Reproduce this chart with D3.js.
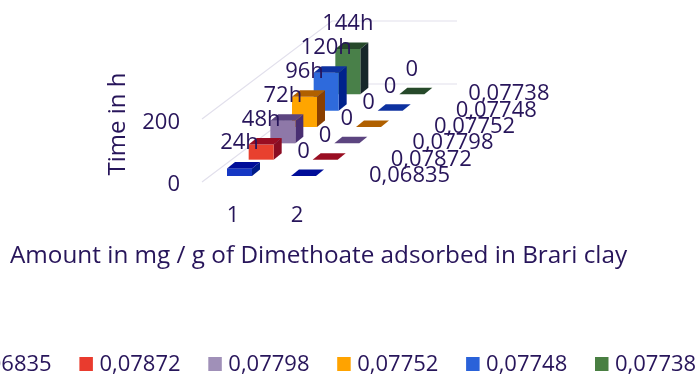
<!DOCTYPE html>
<html>
<head>
<script src="https://d3js.org/d3.v7.min.js"></script>
<style>
  html, body { margin: 0; padding: 0; background: #fff; }
  svg { display: block; }
  text { font-family: "Open Sans", sans-serif; fill: #28145a; }
  .big { font-size: 22px; }
</style>
</head>
<body>
<script>
var categories = ["1", "2"];
var seriesNames = ["0,06835", "0,07872", "0,07798", "0,07752", "0,07748", "0,07738"];
var timeLabels = ["24h", "48h", "72h", "96h", "120h", "144h"];
var cat1Values = [24, 48, 72, 96, 120, 144];
var cat2Values = [0, 0, 0, 0, 0, 0];
var yTicks = [0, 200];

var frontColors = ["#1538c4", "#e8402e", "#8e78a8", "#ffa500", "#2f6bdc", "#4a8048"];
var topColors = ["#000e99", "#990a20", "#5c4480", "#b06000", "#0f33a0", "#254a2a"];
var sideColors = ["#001a88", "#8a0a20", "#4a2f72", "#8a4000", "#04208c", "#16262a"];
var legendColors = ["#1538c4", "#e93a2e", "#a090b8", "#ffa300", "#2b62d9", "#4a7f42"];

var width = 698, height = 374;
var barW = 25, offX = 8, offY = 6.5;

var svg = d3.select("body").append("svg").attr("width", width).attr("height", height);

var catX = d3.scalePoint().domain(categories).range([227, 291]);
var depthX = d3.scaleLinear().domain([0, 6]).range([0, 130]);
var depthY = d3.scaleLinear().domain([0, 6]).range([0, -98]);
var barH = d3.scaleLinear().domain([0, 200]).range([0, 63]);
var yAxisScale = d3.scaleLinear().domain([0, 200]).range([182.5, 120.5]);
var legendX = d3.scaleLinear().domain([0, 5]).range([-49.5, 595]);

var line = d3.line();
function poly(pts) { return line(pts) + "Z"; }

// soft edge, the reference is a resampled screenshot
var defs = svg.append("defs");
defs.append("filter").attr("id", "soft")
  .append("feGaussianBlur").attr("stdDeviation", 0.45);

var chart = svg.append("g").attr("filter", "url(#soft)");

// back walls
var wall = chart.append("g").attr("fill", "none").attr("stroke", "#e2e0ec").attr("stroke-width", 1.2);
yTicks.forEach(function (t) {
  var y0 = 182 - barH(t);
  wall.append("path").attr("d", line([
    [202, y0],
    [202 + depthX(6), y0 + depthY(6)],
    [457, y0 + depthY(6)]
  ]));
});

// bars, back to front
var rows = seriesNames.map(function (s, i) {
  return { i: i, values: [cat1Values[i], cat2Values[i]] };
}).reverse();

var marks = chart.append("g");
rows.forEach(function (row) {
  row.values.forEach(function (v, c) {
    var x = catX(categories[c]) + depthX(row.i);
    var base = 176 + depthY(row.i);
    var top = base - barH(v);
    var g = marks.append("g");
    if (v > 0) {
      g.append("path").attr("fill", sideColors[row.i]).attr("d", poly([
        [x + barW, top], [x + barW + offX, top - offY], [x + barW + offX, base - offY], [x + barW, base]
      ]));
      g.append("path").attr("fill", frontColors[row.i]).attr("d", poly([
        [x, top], [x + barW, top], [x + barW, base], [x, base]
      ]));
    }
    g.append("path").attr("fill", topColors[row.i]).attr("d", poly([
      [x, top], [x + barW, top], [x + barW + offX, top - offY], [x + offX, top - offY]
    ]));
  });
});

// value labels above each bar
var labels = chart.append("g").attr("class", "big").attr("text-anchor", "middle");
seriesNames.forEach(function (s, i) {
  var x1 = catX(categories[0]) + depthX(i) + barW / 2;
  var x2 = catX(categories[1]) + depthX(i) + barW / 2;
  var base = 176 + depthY(i);
  labels.append("text").attr("x", x1).attr("y", base - barH(cat1Values[i]) - 19).text(timeLabels[i]);
  labels.append("text").attr("x", x2).attr("y", base - barH(cat2Values[i]) - 18).text(cat2Values[i]);
});

// series names along the depth axis
var depthLabels = chart.append("g").attr("class", "big");
seriesNames.forEach(function (s, i) {
  depthLabels.append("text")
    .attr("x", 369 + depthX(i) - (i == 5 ? 9 : 0))
    .attr("y", 182 + depthY(i))
    .text(s);
});

// value axis
var yAxis = chart.append("g").attr("transform", "translate(180,0)")
  .call(d3.axisLeft(yAxisScale).tickValues(yTicks).tickSize(0).tickPadding(0));
yAxis.select(".domain").remove();
yAxis.selectAll("text")
  .attr("dy", "0.35em")
  .style("font-size", "22px").style("font-family", '"Open Sans", sans-serif')
  .style("fill", "#28145a");

// category axis
var xAxis = chart.append("g").attr("class", "big");
categories.forEach(function (c) {
  xAxis.append("text").attr("x", catX(c) + 6).attr("y", 222).attr("text-anchor", "middle").text(c);
});

// titles
chart.append("text").attr("class", "big")
  .attr("transform", "translate(125,124) rotate(-90)")
  .attr("text-anchor", "middle").style("font-size", "24px").text("Time in h");
chart.append("text")
  .attr("x", 10).attr("y", 263).style("font-size", "24.3px")
  .text("Amount in mg / g of Dimethoate adsorbed in Brari clay");

// legend, first entry runs off the left edge
var legend = chart.append("g").selectAll("g").data(seriesNames).enter().append("g")
  .attr("transform", function (d, i) { return "translate(" + legendX(i) + ",0)"; });
legend.append("rect").attr("y", 357).attr("width", 13.5).attr("height", 14)
  .attr("fill", function (d, i) { return legendColors[i]; });
legend.append("text").attr("class", "big").attr("x", 20).attr("y", 371)
  .text(function (d) { return d; });
</script>
</body>
</html>
